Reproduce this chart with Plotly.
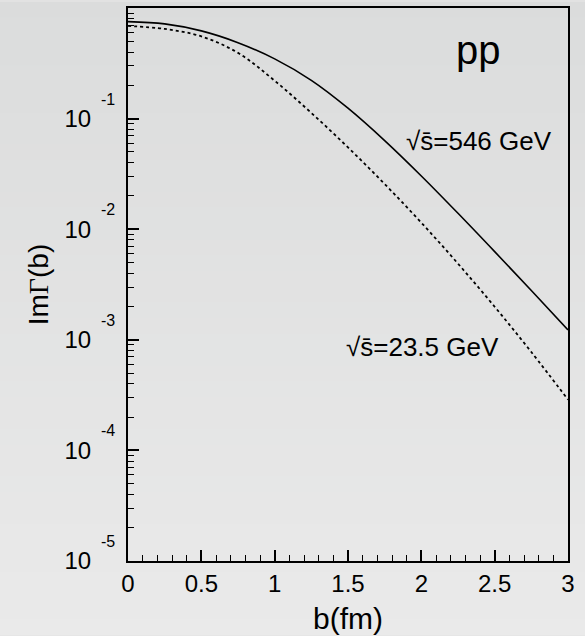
import math
import plotly.graph_objects as go

# ---- data ----
b_546 = [0.0, 0.25, 0.5, 0.75, 1.0, 1.25, 1.5, 1.75, 2.0, 2.25, 2.5, 2.75, 3.0]
im_546 = [0.753, 0.718, 0.621, 0.486, 0.347, 0.222, 0.1243, 0.0633, 0.0303,
          0.01393, 0.00627, 0.00279, 0.00123]

b_235 = [0.0, 0.25, 0.5, 0.75, 1.0, 1.25, 1.5, 1.75, 2.0, 2.25, 2.5, 2.75, 3.0]
im_235 = [0.688, 0.647, 0.554, 0.393, 0.220, 0.1125, 0.0549, 0.0256, 0.01145,
          0.00488, 0.00199, 0.000775, 0.000288]

x_ticks = [0, 0.5, 1, 1.5, 2, 2.5, 3]
x_ticklabels = ["0", "0.5", "1", "1.5", "2", "2.5", "3"]
y_ticks = [1e-5, 1e-4, 1e-3, 1e-2, 1e-1]
y_exponents = ["-5", "-4", "-3", "-2", "-1"]

label_546 = "√s̄=546 GeV"
label_235 = "√s̄=23.5 GeV"
label_pp = "pp"

FONT = "Liberation Sans, Arial, Helvetica, sans-serif"

fig = go.Figure()
fig.add_trace(go.Scatter(x=b_546, y=im_546, mode="lines",
                         line=dict(color="black", width=1.6, shape="spline", smoothing=1.0),
                         showlegend=False))
fig.add_trace(go.Scatter(x=b_235, y=im_235, mode="lines",
                         line=dict(color="black", width=1.8, dash="3px,3px",
                                   shape="spline", smoothing=1.0),
                         showlegend=False))

# gradient background (style only)
W, H = 585, 636
ml, mr, mt, mb = 128, 17, 6, 74
pw, ph = W - ml - mr, H - mt - mb
shapes = []
n = 40
top_c, bot_c = (219, 220, 220), (234, 234, 234)
for i in range(n):
    py0 = i * H / n
    py1 = (i + 1) * H / n + 1
    t = (i + 0.5) / n
    c = tuple(round(top_c[k] + (bot_c[k] - top_c[k]) * t) for k in range(3))
    shapes.append(dict(type="rect", xref="paper", yref="paper", layer="below",
                       x0=-ml / pw, x1=1 + mr / pw,
                       y0=1 - (py1 - mt) / ph, y1=1 - (py0 - mt) / ph,
                       line=dict(width=0), fillcolor="rgb(%d,%d,%d)" % c))

minor_y = [m * 10 ** k for k in range(-5, 0) for m in range(2, 10)]

annotations = []
for v, e in zip(y_ticks, y_exponents):
    annotations.append(dict(x=(117 - ml) / pw, xref="paper", y=math.log10(v), yref="y",
                            xanchor="right", yanchor="middle", yshift=19.5,
                            text=e, showarrow=False,
                            font=dict(family=FONT, size=16, color="black")))
annotations += [
    dict(x=2.393, y=-0.378, xref="x", yref="y", text=label_pp, showarrow=False,
         font=dict(family=FONT, size=40, color="black")),
    dict(x=2.393, y=-1.207, xref="x", yref="y", text=label_546, showarrow=False,
         font=dict(family=FONT, size=26, color="black")),
    dict(x=2.005, y=-3.063, xref="x", yref="y", text=label_235, showarrow=False,
         font=dict(family=FONT, size=26, color="black")),
]

fig.update_layout(
    width=W, height=H, autosize=False,
    margin=dict(l=ml, r=mr, t=mt, b=mb, pad=0),
    paper_bgcolor="rgb(226,226,226)",
    plot_bgcolor="rgba(0,0,0,0)",
    font=dict(family=FONT, color="black"),
    shapes=shapes,
    annotations=annotations,
    xaxis=dict(range=[0, 3], tickvals=x_ticks, ticktext=x_ticklabels,
               ticks="inside", ticklen=11, tickwidth=1.5, tickcolor="black",
               minor=dict(dtick=0.1, ticks="inside", ticklen=6, tickwidth=1.2, tickcolor="black"),
               showline=True, linecolor="black", linewidth=2, mirror=True,
               showgrid=False, zeroline=False,
               tickfont=dict(family=FONT, size=24),
               title=dict(text="b(fm)", font=dict(family=FONT, size=30), standoff=12)),
    yaxis=dict(type="log", range=[-5, 0], tickvals=y_ticks, ticktext=["10"] * len(y_ticks),
               ticks="inside", ticklen=11, tickwidth=1.5, tickcolor="black",
               minor=dict(tickvals=minor_y, ticks="inside", ticklen=6, tickwidth=1.2, tickcolor="black"),
               showline=True, linecolor="black", linewidth=2, mirror=True,
               showgrid=False, zeroline=False,
               tickfont=dict(family=FONT, size=24), ticklabelstandoff=30,
               title=dict(text="Im<span style='font-family:Liberation Serif'>Γ</span>(b)",
                          font=dict(family=FONT, size=28), standoff=8)),
)

fig.write_html("out.html")
